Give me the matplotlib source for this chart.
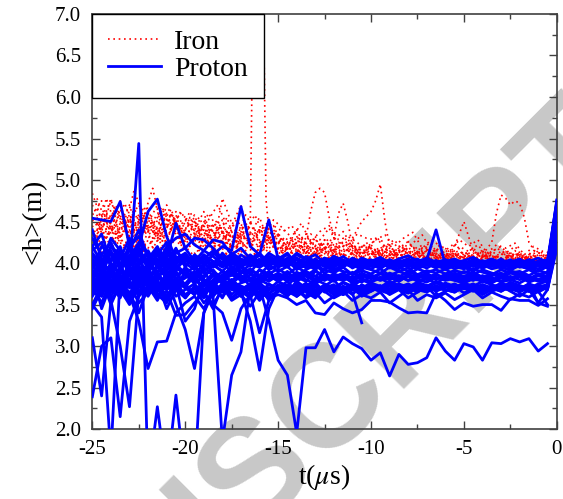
import numpy as np
import matplotlib.pyplot as plt

# time grids in microseconds (0.5 us sampling)
t_grid = np.arange(-25, 0.01, 0.5)       # -25 ... 0
t_grid_b = np.arange(-24.75, 0.0, 0.5)   # iron showers sampled half a step later

# <h> in cm, one string per shower, starting at t = -25
proton_bundle = [
    "412 398 405 420 388 410 395 402 415 392 405 398 410 395 402 388 400 408 395 401 398 405 392 400 396 403 390 398 402 394 399 393 401 396 390 398 394 400 392 397 395 390 398 393 396 391 399 394 390 396 472",
    "385 402 370 395 410 378 392 405 380 398 388 395 382 398 390 385 396 380 392 387 393 386 395 389 384 392 388 395 386 391 387 393 385 390 394 386 391 388 393 385 390 386 392 388 385 391 387 392 386 389 455",
    "430 410 425 398 415 440 405 420 395 412 418 402 415 408 398 412 405 400 410 396 404 410 398 406 402 397 408 400 395 405 401 396 404 399 402 395 400 403 397 401 398 402 396 400 397 403 395 399 401 396 468",
    "365 388 398 372 380 395 368 385 392 375 382 390 376 388 380 392 378 386 383 389 380 387 383 378 390 384 380 386 382 388 383 380 388 384 379 386 382 387 380 384 381 386 382 379 385 381 384 380 386 382 440",
    "400 375 392 410 385 372 398 388 405 380 395 385 400 390 382 396 388 393 385 398 390 396 385 392 398 388 394 390 387 395 392 388 395 390 386 393 389 392 387 391 388 393 389 386 392 388 390 385 391 388 430",
    "420 435 400 385 425 398 412 380 400 418 395 410 402 396 412 400 395 408 398 404 400 395 405 399 392 401 397 403 394 400 396 401 394 398 403 395 399 394 400 396 393 398 394 399 395 392 397 393 398 394 448",
    "378 360 390 400 372 385 395 370 388 382 375 388 380 372 386 378 390 382 376 385 378 384 380 388 376 383 379 385 381 377 384 379 383 378 385 380 377 383 379 382 378 383 380 376 382 379 384 377 381 378 425",
    "395 420 412 380 398 405 385 415 390 408 400 392 405 398 390 402 396 388 404 393 398 402 393 397 405 396 391 399 402 395 398 402 396 393 400 397 402 395 399 393 397 401 395 398 394 400 396 393 399 395 458",
    "350 372 365 395 405 382 400 390 370 395 385 378 392 370 385 395 380 390 375 388 382 390 378 385 392 380 387 383 378 386 381 387 383 378 386 382 385 380 387 383 380 385 382 378 386 381 384 379 385 382 438",
    "440 405 385 415 400 420 392 410 425 398 410 400 395 412 405 398 410 402 396 408 402 396 405 400 398 406 401 395 403 399 404 398 402 396 401 405 398 402 397 400 403 398 401 396 402 399 404 397 400 398 475",
    "372 392 380 365 395 388 375 398 382 368 388 375 385 392 378 386 380 392 384 378 386 381 389 384 379 387 383 388 380 385 382 388 384 380 386 383 388 381 385 387 383 387 381 385 388 382 386 384 380 385 445",
    "405 385 415 392 378 400 415 395 382 405 398 405 390 400 408 394 402 396 405 392 397 403 395 401 397 392 400 396 404 398 393 399 396 402 397 393 398 401 395 399 396 400 394 398 402 395 399 396 393 398 462",
    "390 345 375 385 360 392 380 360 375 390 372 385 365 380 390 375 385 372 380 390 378 372 385 380 375 382 378 384 376 380 377 382 375 380 384 378 381 376 382 379 376 381 378 383 377 380 376 382 378 380 432",
    "415 425 395 405 430 385 400 418 405 390 412 395 405 415 398 408 395 402 410 398 405 400 396 408 402 396 404 399 406 401 399 405 400 396 403 398 404 399 402 405 400 404 398 403 399 401 405 398 402 400 470",
    "380 398 355 372 390 398 372 380 398 385 392 380 395 385 375 390 385 378 392 382 388 382 377 390 384 379 386 382 389 383 386 381 387 383 390 385 380 386 382 388 384 389 383 387 382 388 385 381 387 384 450",
    "398 380 420 410 395 415 402 388 412 400 405 395 388 402 396 405 390 398 395 405 395 400 404 394 400 398 395 402 398 392 401 396 399 404 398 394 401 397 393 400 397 392 400 396 401 394 398 402 396 400 460",
    "375 360 385 370 355 380 365 372 360 378 370 362 375 368 360 372 365 370 362 368 372 366 360 370 365 372 368 362 370 366 372 367 363 370 374 368 365 371 367 372 369 373 367 370 366 372 368 374 352 368 435",
    "360 378 392 368 350 372 385 365 378 360 368 375 362 372 366 378 360 370 365 374 366 372 368 376 362 370 374 365 372 368 375 370 366 372 368 375 371 367 373 369 372 368 374 370 366 373 369 375 366 350",
    "372 385 360 378 390 365 380 372 355 382 370 365 378 360 372 380 366 358 372 364 370 362 368 358 365 352 360 366 355 362 358 365 352 360 368 355 362 358 364 356 362 368 358 365 360 356 363 359 366 372 440",
    "380 365 392 375 360 385 372 390 368 378 372 385 366 375 380 362 372 368 378 360 366 374 368 360 372 366 358 364 372 360 366 372 362 368 358 365 372 360 366 372 364 370 362 368 374 366 360 368 352 348",
]

proton_low = [
    "392 378 385 370 392 544 140 227 140 241 140 140 340 365 372 380 368 375 382 379 385 378 383 389 380 386 382 379 384 381 378 383 380 385 379 382 386 381 384 380 383 379 385 381 378 384 380 383 379 382 452",
    "370 352 380 362 378 360 385 372 368 380 372 385 368 378 382 370 376 380 372 331 283 265 195 298 298 320 293 311 303 297 283 292 264 290 278 280 286 310 294 283 303 299 283 304 303 309 305 309 294 303",
    "362 380 350 375 365 340 372 358 366 337 338 352 365 345 372 355 362 348 365 358 362 358 350 355 340 338 352 345 340 344 355 355 353 346 340 341 340 364 355 344 352 348 350 350 343 357 355 355 349 357",
    "345 368 390 360 375 352 365 380 358 372 360 370 352 365 375 358 368 360 372 355 366 372 360 368 365 370 362 372 364 328",
    "239 300 310 215 330 360 372 355 378 368 375 362 380 370 365 378 372 368 380 374 370 378 365 372 380 375 370 377 372 380 375 371 378 373 369 376 372 378 374 370 376 372 378 374 370 377 373 369 375 378 428",
    "310 240 355 300 227 365 380 362 352 375 362 370 358 378 365 372 360 375 368 362 374 368 362 370 376 366 372 368 375 370 366 372 368 374 370 365 372 369 374 367 371 375 369 372 368 374 370 366 373 369 420",
    "350 335 170 385 352 372 360 378 345 368 358 372 362 350 368 375 362 370 358 375 368 362 372 366 360 370 364 372 368 362 370 366 372 368 364 371 367 373 368 365 372 368 365 371 367 373 369 366 372 368 418",
    "380 365 392 372 386 378 395 368 382 374 330 345 380 360 185 265 293 370 355 368 378 370 365 375 368 372 380 366 374 370 376 372 368 375 371 377 373 369 376 372 375 370 374 369 376 372 368 375 371 374 440",
    "372 390 365 380 395 375 388 370 382 350 320 273 340 372 358 380 370 362 375 368 372 365 378 370 366 374 369 376 371 367 373 369 375 371 367 374 370 376 372 368 374 370 367 373 369 375 371 368 374 370 436",
    "385 370 395 378 362 330 273 305 306 340 352 360 345 365 372 358 366 375 362 370 366 372 360 368 374 365 370 362 368 373 368 372 366 371 375 369 373 367 371 374 370 366 372 368 373 369 365 371 367 372 424",
    "390 375 400 385 370 392 380 398 386 375 388 380 372 385 378 368 365 330 271 345 370 362 375 368 360 372 365 370 362 374 368 373 365 370 374 368 372 366 371 375 369 373 367 371 375 368 372 366 370 374 430",
    "365 380 372 358 388 375 362 385 370 380 358 372 365 350 340 307 345 362 316 355 368 360 372 365 358 370 362 368 375 364 370 366 373 368 364 371 367 372 368 365 371 368 373 366 370 367 372 369 365 371 426",
]

proton_high = [
    "454 452 450 474 420 432 410 395 418 402 408 396 410 402 395 405 398 410 400 404 398 406 400 395 404 398 405 400 396 402 399 404 397 401 405 398 402 396 400 404 399 403 397 401 396 402 398 404 397 400 465",
    "395 410 402 415 400 420 462 477 432 405 412 398 408 402 396 410 400 405 398 408 402 398 406 400 395 403 399 404 397 401 398 403 396 401 405 397 402 398 404 399 401 396 402 398 403 397 400 404 398 401 468",
    "405 390 412 398 420 402 388 410 395 415 402 408 398 410 420 415 468 420 410 452 405 412 398 406 401 396 408 402 397 405 401 398 404 399 395 402 397 403 398 401 396 402 398 403 399 395 401 397 402 398 476",
    "410 395 420 405 398 412 400 415 405 448 418 430 428 418 405 410 402 408 400 412 405 400 410 404 398 406 402 408 400 404 398 405 401 396 403 399 404 440 398 402 400 396 403 399 405 398 402 396 401 404 472",
    "420 400 430 415 405 425 410 398 420 430 435 422 415 428 425 410 418 405 412 400 408 402 412 405 410 400 408 403 398 406 402 407 400 405 409 402 406 401 404 399 403 407 401 405 400 404 398 402 406 401 460",
]

iron_a = [
    "484 452 430 465 440 418 455 432 470 445 438 420 445 428 452 415 435 425 440 418 425 410 432 418 405 428 415 422 408 420 418 408 422 405 415 410 402 418 408 412 405 412 400 415 404 408 398 412 405 402 428",
    "445 420 460 438 455 425 448 470 430 452 430 450 418 440 425 435 412 428 420 432 418 405 425 412 420 400 415 408 418 405 412 402 418 408 404 415 406 412 400 410 404 408 400 406 412 402 408 398 404 410 420",
    "420 458 440 475 425 450 438 455 420 440 452 435 425 445 430 418 438 422 408 435 410 425 418 402 415 428 410 405 420 412 405 415 422 408 400 412 406 418 404 410 400 408 414 398 405 402 410 404 398 406 415",
    "460 435 422 448 470 432 460 442 425 458 425 440 462 418 478 448 425 415 442 425 435 418 410 425 405 420 412 430 415 408 422 408 415 404 426 410 418 406 412 404 410 404 416 406 400 413 405 400 410 404 424",
    "470 445 478 430 450 442 468 425 445 435 415 432 440 425 445 430 418 448 425 412 428 415 425 435 412 405 418 410 422 415 410 420 405 414 408 420 404 415 410 402 408 415 404 410 402 408 412 400 406 400 412",
    "452 438 475 450 432 458 440 435 460 448 435 425 450 438 422 445 470 420 438 450 415 430 422 412 428 418 408 420 425 405 418 412 406 420 414 408 416 404 412 408 414 405 410 402 415 406 400 410 413 404 418",
    "408 425 415 398 420 405 428 410 400 418 405 412 398 420 408 402 415 398 410 405 402 398 408 400 395 406 398 404 396 402 402 408 400 406 402 398 405 402 408 400 402 398 404 400 406 398 402 400 404 400 408",
    "458 475 440 432 452 470 445 430 448 462 440 458 425 448 438 420 445 435 455 425 435 425 440 418 430 412 428 438 420 410 424 430 410 418 426 412 420 405 415 424 410 418 406 414 420 408 412 404 415 408 428",
    "435 412 445 425 408 432 418 440 415 430 420 408 428 415 440 410 425 405 418 430 412 420 405 415 400 418 408 400 412 402 408 415 402 412 406 414 402 410 404 412 406 402 408 404 400 408 402 406 400 404 414",
]

iron_b = [
    "430 478 445 420 462 435 450 425 458 440 420 445 430 415 438 425 442 410 430 420 415 428 405 420 412 425 408 418 402 415 410 418 404 412 420 406 414 402 410 406 408 402 412 406 400 410 404 408 400 406",
    "465 440 425 452 430 468 445 420 440 462 445 425 440 452 418 432 420 440 415 428 422 412 418 405 425 410 402 418 412 400 418 408 412 402 410 418 404 410 406 400 412 406 402 408 404 400 410 404 402 408",
    "448 430 470 445 418 440 425 448 465 425 432 415 448 425 410 438 428 415 432 445 420 405 418 428 408 415 422 400 412 425 408 414 404 420 410 406 412 400 414 408 402 410 406 400 412 404 408 402 400 410",
    "425 455 438 420 445 460 418 435 450 432 448 428 418 435 455 420 442 432 418 438 412 428 420 410 418 405 425 415 408 418 406 418 410 420 408 402 414 408 404 412 408 400 412 406 414 402 408 404 410 400",
    "440 462 430 458 440 425 450 468 438 420 440 455 432 420 440 425 450 410 428 440 425 418 432 408 415 422 405 425 418 410 415 406 412 418 404 410 420 406 410 415 404 412 406 402 408 415 402 408 404 412",
    "435 450 420 440 465 448 430 455 440 425 455 438 425 445 432 418 440 428 445 420 428 420 412 425 418 430 412 405 418 422 410 422 408 415 402 418 410 406 416 408 406 414 408 400 406 412 404 410 402 408",
    "418 402 428 410 395 415 405 420 400 412 398 410 405 395 412 400 408 396 405 410 398 405 395 402 408 396 402 398 405 400 400 405 402 398 406 402 404 400 405 402 398 404 400 405 402 398 404 400 402 398",
    "478 448 465 442 488 455 438 465 445 460 450 435 460 442 430 452 438 458 432 445 438 445 420 435 428 442 418 432 425 415 430 420 428 414 424 434 415 422 410 420 414 422 408 418 412 420 405 415 410 406",
    "455 430 448 472 438 455 490 440 460 438 462 440 452 470 445 430 458 440 432 452 442 430 448 425 438 445 428 420 435 430 428 434 420 430 437 418 428 420 415 428 420 428 412 422 418 424 410 420 414 412",
]

# iron showers with isolated excursions (time, <h> in cm)
iron_peak_t = [
    [-17.0, -16.5, -16.4, -16.0, -15.75, -15.65, -15.5, -15.0],
    [-14.0, -13.5, -13.25, -13.0, -12.75, -12.5, -12.25, -12.0, -11.75, -11.5, -11.25, -11.0, -10.5],
    [-11.0, -10.5, -10.0, -9.75, -9.5, -9.25, -9.0, -8.5],
    [-6.0, -5.5, -5.25, -5.0, -4.75, -4.5, -4.0],
    [-4.0, -3.5, -3.25, -3.0, -2.75, -2.5, -2.25, -2.0, -1.75, -1.5, -1.0],
]
iron_peak_h = [
    [425, 445, 630, 645, 640, 476, 440, 420],
    [420, 430, 462, 485, 490, 485, 455, 430, 460, 472, 450, 420, 410],
    [430, 450, 462, 475, 495, 450, 420, 410],
    [405, 420, 435, 450, 432, 415, 405],
    [410, 425, 460, 482, 478, 470, 475, 472, 455, 425, 408],
]

plt.rcParams['font.family'] = 'serif'
plt.rcParams['font.serif'] = ['Liberation Serif', 'DejaVu Serif']
plt.rcParams['mathtext.fontset'] = 'stix'

fig = plt.figure(figsize=(5.63, 4.99), dpi=100)
ax = fig.add_axes([0.164, 0.140, 0.825, 0.832])

# watermark behind the curves
ax.text(1.08, 0.738, 'ACCEPTED MANUSCRIPT', transform=fig.transFigure,
        fontsize=106, fontweight='bold', family='Liberation Sans',
        color='#c8c8c8', rotation=45, rotation_mode='anchor',
        ha='right', va='center', zorder=0.5, clip_on=False)

red_style = dict(color='red', lw=1.2, ls=(0, (1, 2.2)), zorder=2)
for s in iron_a:
    h = np.array(s.split(), float) / 100
    ax.plot(t_grid[:len(h)], h, **red_style)
for s in iron_b:
    h = np.array(s.split(), float) / 100
    ax.plot(t_grid_b[:len(h)], h, **red_style)
for tt, hh in zip(iron_peak_t, iron_peak_h):
    ax.plot(tt, np.array(hh) / 100, **red_style)

for s in proton_bundle + proton_low + proton_high:
    h = np.array(s.split(), float) / 100
    ax.plot(t_grid[:len(h)], h, color='blue', lw=2.0, zorder=3)

ax.plot([], [], label='Iron', **red_style)
ax.plot([], [], color='blue', lw=2.0, label='Proton')
handles, labels = ax.get_legend_handles_labels()
leg = ax.legend(handles, labels, loc='upper left', bbox_to_anchor=(0, 1),
                borderaxespad=0, fancybox=False, framealpha=1,
                edgecolor='black', fontsize=20, handlelength=1.9,
                handletextpad=0.49, labelspacing=0.06, borderpad=0.56)
leg.get_frame().set_linewidth(1.0)
leg.set_zorder(10)

ax.set_xlim(-25, 0)
ax.set_ylim(2.0, 7.0)
ax.set_xticks([-25, -20, -15, -10, -5, 0])
ax.set_xticklabels(['-25', '-20', '-15', '-10', '-5', '0'])
ax.set_yticks(np.arange(2.0, 7.01, 0.5))
ax.set_yticklabels([f'{v:.1f}' for v in np.arange(2.0, 7.01, 0.5)])
ax.set_xticks(np.arange(-22.5, 0, 5), minor=True)
ax.set_yticks(np.arange(2.25, 7.0, 0.5), minor=True)
ax.tick_params(which='both', direction='in', top=True, right=True,
               labelsize=15, color='0.25', width=1.0)
ax.tick_params(which='major', length=6, pad=8)
ax.tick_params(which='minor', length=3.5)
for sp in ax.spines.values():
    sp.set_color('0.25')
    sp.set_linewidth(1.2)

ax.set_xlabel(r't($\mu$s)', fontsize=20, labelpad=2)
ax.set_ylabel('<h>(m)', fontsize=20, labelpad=6)

fig.savefig('out.png', dpi=100)
